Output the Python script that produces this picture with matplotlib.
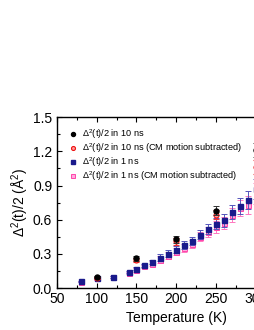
import matplotlib
matplotlib.use("Agg")
import matplotlib.pyplot as plt
from matplotlib.ticker import MultipleLocator

plt.rcParams["font.family"] = ["Liberation Sans", "DejaVu Sans"]
plt.rcParams["mathtext.fontset"] = "custom"
plt.rcParams["mathtext.rm"] = "Liberation Sans"
plt.rcParams["mathtext.it"] = "Liberation Sans:italic"

# 10 ns trajectories
temp_10ns = [100, 150, 200, 250, 300]
msd_10ns = [0.10, 0.26, 0.43, 0.68, 1.21]
err_10ns = [0.01, 0.02, 0.03, 0.04, 0.06]
msd_10ns_cm = [0.09, 0.245, 0.41, 0.645, 1.06]
err_10ns_cm = [0.01, 0.02, 0.03, 0.04, 0.06]

# 1 ns windows
temp_1ns = [80, 100, 120, 140, 150, 160, 170, 180, 190, 200,
            210, 220, 230, 240, 250, 260, 270, 280, 290, 300]
msd_1ns = [0.06, 0.09, 0.10, 0.14, 0.17, 0.20, 0.23, 0.265, 0.30, 0.335,
           0.375, 0.41, 0.47, 0.52, 0.565, 0.595, 0.67, 0.72, 0.77, 0.87]
err_1ns = [0.005, 0.01, 0.01, 0.01, 0.015, 0.015, 0.02, 0.03, 0.03, 0.03,
           0.035, 0.035, 0.04, 0.045, 0.05, 0.055, 0.06, 0.07, 0.08, 0.09]
msd_1ns_cm = [0.055, 0.085, 0.095, 0.135, 0.16, 0.19, 0.215, 0.25, 0.285, 0.32,
              0.355, 0.39, 0.45, 0.49, 0.535, 0.57, 0.64, 0.70, 0.73, 0.83]
err_1ns_cm = [0.005, 0.01, 0.01, 0.01, 0.015, 0.015, 0.02, 0.03, 0.03, 0.03,
              0.035, 0.035, 0.04, 0.045, 0.05, 0.055, 0.06, 0.07, 0.08, 0.09]

fig = plt.figure(figsize=(2.55, 3.3), dpi=100)
ax = fig.add_axes([0.2235, 0.127, 0.935, 0.518])

ax.errorbar(temp_1ns, msd_1ns_cm, yerr=err_1ns_cm, fmt="s", ms=3.6,
            mfc="#ffaadd", mec="#ff44aa", mew=0.7, ecolor="#ff77c0",
            elinewidth=0.7, capsize=2, capthick=0.7, zorder=2,
            label=r"$\Delta^2$(t)/2 in 1 ns (CM motion subtracted)")
ax.errorbar(temp_1ns, msd_1ns, yerr=err_1ns, fmt="s", ms=3.6,
            color="#1a1a8c", ecolor="#5555bb", elinewidth=0.7,
            capsize=2, capthick=0.7, zorder=3,
            label=r"$\Delta^2$(t)/2 in 1 ns")
ax.errorbar(temp_10ns, msd_10ns_cm, yerr=err_10ns_cm, fmt="o", ms=3.6,
            mfc="#ff9999", mec="#ee1111", mew=0.8, ecolor="#ee3333",
            elinewidth=0.7, capsize=2, capthick=0.7, zorder=4,
            label=r"$\Delta^2$(t)/2 in 10 ns (CM motion subtracted)")
ax.errorbar(temp_10ns, msd_10ns, yerr=err_10ns, fmt="o", ms=3.6,
            color="black", ecolor="#333333", elinewidth=0.7,
            capsize=2, capthick=0.7, zorder=5,
            label=r"$\Delta^2$(t)/2 in 10 ns")

handles, labels = ax.get_legend_handles_labels()
order = [3, 2, 1, 0]
ax.legend([handles[i][0] for i in order], [labels[i] for i in order],
          loc="upper left", bbox_to_anchor=(0.01, 0.99), frameon=False,
          fontsize=6.6, handletextpad=0.35, labelspacing=0.05,
          handlelength=1.2, borderaxespad=0.5, markerscale=0.8)

ax.set_xlim(50, 350)
ax.set_ylim(0, 1.5)
ax.xaxis.set_major_locator(MultipleLocator(50))
ax.xaxis.set_minor_locator(MultipleLocator(25))
ax.yaxis.set_major_locator(MultipleLocator(0.3))
ax.yaxis.set_minor_locator(MultipleLocator(0.15))
ax.yaxis.set_major_formatter(plt.FuncFormatter(lambda v, p: f"{v:.1f}"))

ax.tick_params(which="both", direction="in", top=True, right=True,
               labelsize=10, width=0.8)
ax.tick_params(axis="y", which="major", pad=3.5)
ax.tick_params(which="major", length=3.5)
ax.tick_params(axis="x", which="major", pad=2.5)
ax.tick_params(which="minor", length=2)
for s in ax.spines.values():
    s.set_linewidth(1.0)

ax.set_xlabel("Temperature (K)", fontsize=10, labelpad=4)
ax.set_ylabel(r"$\Delta^2$(t)/2 ($\mathrm{\AA}^2$)", fontsize=10, labelpad=1)

fig.savefig("out.png", dpi=100)
